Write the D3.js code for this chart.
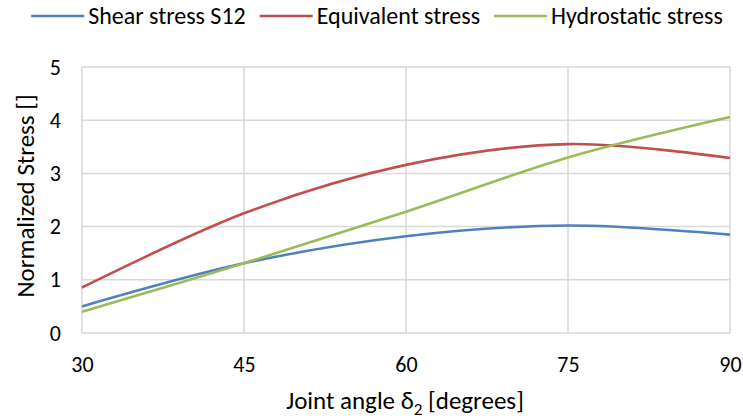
<!DOCTYPE html>
<html><head><meta charset="utf-8">
<script src="https://cdn.jsdelivr.net/npm/d3@7"></script>
<style>
html,body{margin:0;padding:0;background:#fff;}
svg text{font-family:Carlito,Calibri,Lato,"Open Sans",sans-serif;fill:#000;}
</style></head>
<body><svg id="chart" width="743" height="419"></svg>
<script>
const angles = [30, 45, 60, 75, 90];
const shearStress = [0.50, 1.31, 1.82, 2.02, 1.85];
const equivalentStress = [0.855, 2.25, 3.16, 3.55, 3.29];
const hydrostaticStress = [0.40, 1.31, 2.28, 3.30, 4.06];
const xTicks = [30, 45, 60, 75, 90];
const yTicks = [0, 1, 2, 3, 4, 5];
const seriesNames = ["Shear stress S12", "Equivalent stress", "Hydrostatic stress"];
const seriesColors = ["#4f81bd", "#c0504d", "#9bbb59"];

const series = [shearStress, equivalentStress, hydrostaticStress].map((vals, i) => ({
  name: seriesNames[i], color: seriesColors[i],
  points: angles.map((a, j) => ({x: a, y: vals[j]}))
}));

const svg = d3.select("#chart");
const L = 82, R = 730, T = 67, B = 333;
const FF = "Carlito,Calibri,Lato,sans-serif";
const x = d3.scaleLinear().domain([30, 90]).range([L, R]);
const y = d3.scaleLinear().domain([0, 5]).range([B, T]);

// gridlines
const grid = svg.append("g");
grid.selectAll("line.h").data(yTicks).join("line")
  .attr("x1", L).attr("x2", R).attr("y1", d => y(d)).attr("y2", d => y(d))
  .attr("stroke", "#d9d9d9").attr("stroke-width", 1.5);
grid.selectAll("line.v").data(xTicks).join("line")
  .attr("y1", T).attr("y2", B).attr("x1", d => x(d)).attr("x2", d => x(d))
  .attr("stroke", "#d9d9d9").attr("stroke-width", 1.5);

// axes (labels only)
const xAxis = svg.append("g").attr("transform", `translate(0,${B})`)
  .call(d3.axisBottom(x).tickValues(xTicks).tickFormat(d3.format("d")).tickSize(0).tickPadding(23));
xAxis.select(".domain").remove();
xAxis.selectAll("text").attr("font-size", 22).attr("fill", "#000").style("font-family", FF);

const yAxis = svg.append("g").attr("transform", `translate(${L},0)`)
  .call(d3.axisLeft(y).tickValues(yTicks).tickFormat(d3.format("d")).tickSize(0).tickPadding(21));
yAxis.select(".domain").remove();
yAxis.selectAll("text").attr("font-size", 22).attr("fill", "#000").style("font-family", FF);

// lines
const line = d3.line().x(d => x(d.x)).y(d => y(d.y)).curve(d3.curveCatmullRom.alpha(0));
svg.append("g").selectAll("path").data(series).join("path")
  .attr("d", d => line(d.points)).attr("fill", "none")
  .attr("stroke", d => d.color).attr("stroke-width", 2.6);

// axis titles
const xt = svg.append("text").attr("x", 405).attr("y", 409)
  .attr("text-anchor", "middle").attr("font-size", 25);
xt.append("tspan").text("Joint angle δ");
xt.append("tspan").attr("font-size", 17).attr("dy", 6).text("2");
xt.append("tspan").attr("dy", -6).text(" [degrees]");

svg.append("text").attr("transform", `translate(34,${(T + B) / 2 - 4}) rotate(-90)`)
  .attr("text-anchor", "middle").attr("font-size", 25).text("Normalized Stress []");

// legend
const lg = svg.append("g");
const items = lg.selectAll("g").data(series).join("g");
items.append("line").attr("x1", 0).attr("x2", 53).attr("y1", 0).attr("y2", 0)
  .attr("stroke", d => d.color).attr("stroke-width", 2.6);
items.append("text").attr("x", 57).attr("y", 8).attr("font-size", 24).text(d => d.name);
const widths = [];
items.each(function(d) {
  widths.push(57 + d3.select(this).select("text").node().getComputedTextLength());
});
const gap = 14;
const total = d3.sum(widths) + gap * (widths.length - 1);
let start = 377 - total / 2;
items.attr("transform", (d, i) => {
  const t = `translate(${start},16)`;
  start += widths[i] + gap;
  return t;
});
</script></body></html>
